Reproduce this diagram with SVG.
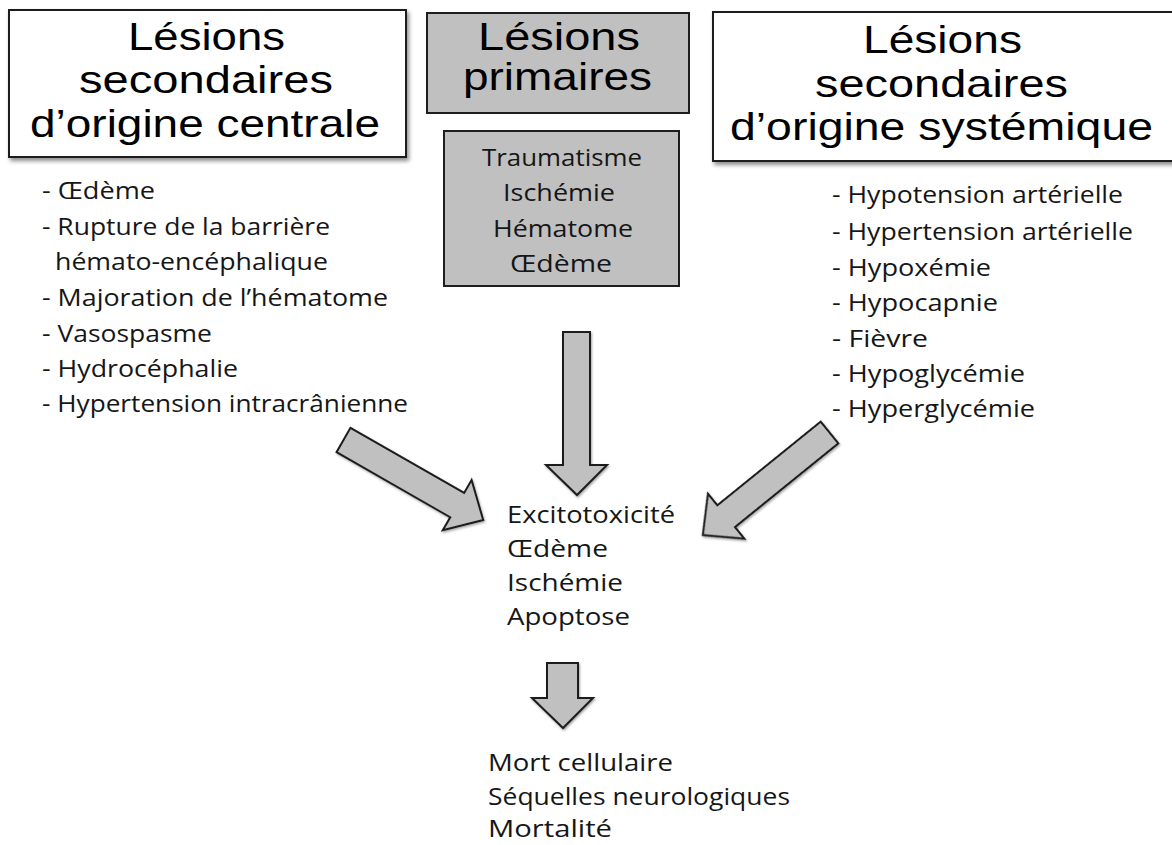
<svg xmlns="http://www.w3.org/2000/svg" width="1172" height="845" viewBox="0 0 1172 845">
  <style>
    .title { font-family: "Liberation Sans", Arial, sans-serif; font-size: 39px; fill: #000; text-anchor: middle; }
    .lst { font-family: "Open Sans", "Noto Sans", sans-serif; font-size: 24px; fill: #161616; }
    .ctr { font-family: "Open Sans", "Noto Sans", sans-serif; font-size: 24px; fill: #161616; text-anchor: middle; }
    .boxw { fill: #ffffff; stroke: #1e1e1e; stroke-width: 2; }
    .boxg { fill: #c0c0c0; stroke: #1e1e1e; stroke-width: 2; }
    .arrow { fill: #c0c0c0; stroke: #1e1e1e; stroke-width: 2; stroke-linejoin: miter; }
  </style>
  <defs>
    <filter id="shadow" x="-10%" y="-10%" width="130%" height="140%">
      <feDropShadow dx="2" dy="3" stdDeviation="2" flood-color="#000" flood-opacity="0.45"/>
    </filter>
    <filter id="ashadow" x="-20%" y="-20%" width="140%" height="140%">
      <feDropShadow dx="1" dy="1.5" stdDeviation="1.2" flood-color="#000" flood-opacity="0.35"/>
    </filter>
  </defs>
  <rect width="1172" height="845" fill="#ffffff"/>

  <g id="box-central">
    <rect class="boxw" x="9" y="10" width="397" height="147" filter="url(#shadow)"/>
    <text class="title" x="206.5" y="49.5" textLength="157" lengthAdjust="spacingAndGlyphs">Lésions</text>
    <text class="title" x="206" y="93" textLength="254" lengthAdjust="spacingAndGlyphs">secondaires</text>
    <text class="title" x="205" y="136.5" textLength="350" lengthAdjust="spacingAndGlyphs">d’origine centrale</text>
  </g>

  <g id="box-primary">
    <rect class="boxg" x="427" y="13" width="262" height="100"/>
    <text class="title" x="559" y="50" textLength="162" lengthAdjust="spacingAndGlyphs">Lésions</text>
    <text class="title" x="557.5" y="89.5" textLength="189" lengthAdjust="spacingAndGlyphs">primaires</text>
  </g>

  <g id="box-primary-list">
    <rect class="boxg" x="444" y="131" width="235" height="155"/>
    <text class="ctr" x="562" y="165.5" textLength="160" lengthAdjust="spacingAndGlyphs">Traumatisme</text>
    <text class="ctr" x="559" y="201" textLength="112" lengthAdjust="spacingAndGlyphs">Ischémie</text>
    <text class="ctr" x="563" y="236.5" textLength="140" lengthAdjust="spacingAndGlyphs">Hématome</text>
    <text class="ctr" x="561" y="272" textLength="102" lengthAdjust="spacingAndGlyphs">Œdème</text>
  </g>

  <g id="box-systemic">
    <rect class="boxw" x="713" y="12" width="470" height="149" filter="url(#shadow)"/>
    <text class="title" x="942.5" y="53" textLength="159" lengthAdjust="spacingAndGlyphs">Lésions</text>
    <text class="title" x="941.5" y="97" textLength="253" lengthAdjust="spacingAndGlyphs">secondaires</text>
    <text class="title" x="941.5" y="140" textLength="423" lengthAdjust="spacingAndGlyphs">d’origine systémique</text>
  </g>

  <g id="list-central">
    <text class="lst" x="42" y="199" textLength="113" lengthAdjust="spacingAndGlyphs">- Œdème</text>
    <text class="lst" x="42" y="235" textLength="288" lengthAdjust="spacingAndGlyphs">- Rupture de la barrière</text>
    <text class="lst" x="55" y="270" textLength="273" lengthAdjust="spacingAndGlyphs">hémato-encéphalique</text>
    <text class="lst" x="42" y="306" textLength="346" lengthAdjust="spacingAndGlyphs">- Majoration de l’hématome</text>
    <text class="lst" x="42" y="342" textLength="170" lengthAdjust="spacingAndGlyphs">- Vasospasme</text>
    <text class="lst" x="42" y="377" textLength="196" lengthAdjust="spacingAndGlyphs">- Hydrocéphalie</text>
    <text class="lst" x="42" y="412" textLength="366" lengthAdjust="spacingAndGlyphs">- Hypertension intracrânienne</text>
  </g>

  <g id="list-systemic">
    <text class="lst" x="832" y="203" textLength="291" lengthAdjust="spacingAndGlyphs">- Hypotension artérielle</text>
    <text class="lst" x="832" y="240" textLength="301" lengthAdjust="spacingAndGlyphs">- Hypertension artérielle</text>
    <text class="lst" x="832" y="276" textLength="159" lengthAdjust="spacingAndGlyphs">- Hypoxémie</text>
    <text class="lst" x="832" y="311" textLength="166" lengthAdjust="spacingAndGlyphs">- Hypocapnie</text>
    <text class="lst" x="832" y="347" textLength="96" lengthAdjust="spacingAndGlyphs">- Fièvre</text>
    <text class="lst" x="832" y="382" textLength="193" lengthAdjust="spacingAndGlyphs">- Hypoglycémie</text>
    <text class="lst" x="832" y="417" textLength="203" lengthAdjust="spacingAndGlyphs">- Hyperglycémie</text>
  </g>

  <g id="node-mechanisms">
    <text class="lst" x="507" y="523" textLength="168" lengthAdjust="spacingAndGlyphs">Excitotoxicité</text>
    <text class="lst" x="507" y="557" textLength="101" lengthAdjust="spacingAndGlyphs">Œdème</text>
    <text class="lst" x="507" y="591" textLength="116" lengthAdjust="spacingAndGlyphs">Ischémie</text>
    <text class="lst" x="507" y="625" textLength="123" lengthAdjust="spacingAndGlyphs">Apoptose</text>
  </g>

  <g id="node-outcomes">
    <text class="lst" x="488" y="771" textLength="185" lengthAdjust="spacingAndGlyphs">Mort cellulaire</text>
    <text class="lst" x="488" y="805" textLength="302" lengthAdjust="spacingAndGlyphs">Séquelles neurologiques</text>
    <text class="lst" x="488" y="837" textLength="124" lengthAdjust="spacingAndGlyphs">Mortalité</text>
  </g>

  <g id="connectors" filter="url(#ashadow)">
    <path class="arrow" transform="translate(343.5,440) rotate(29.8)" d="M0,-14 L131,-14 L131,-29 L161,0 L131,29 L131,14 L0,14 Z"/>
    <path class="arrow" d="M563,332 L590,332 L590,465 L607,465 L577,495 L546,465 L563,465 Z"/>
    <path class="arrow" transform="translate(829.5,432.5) rotate(141)" d="M0,-14 L133,-14 L133,-29 L163,0 L133,29 L133,14 L0,14 Z"/>
    <path class="arrow" d="M547,663 L578,663 L578,698 L593,698 L563,728 L532,698 L547,698 Z"/>
  </g>
</svg>
